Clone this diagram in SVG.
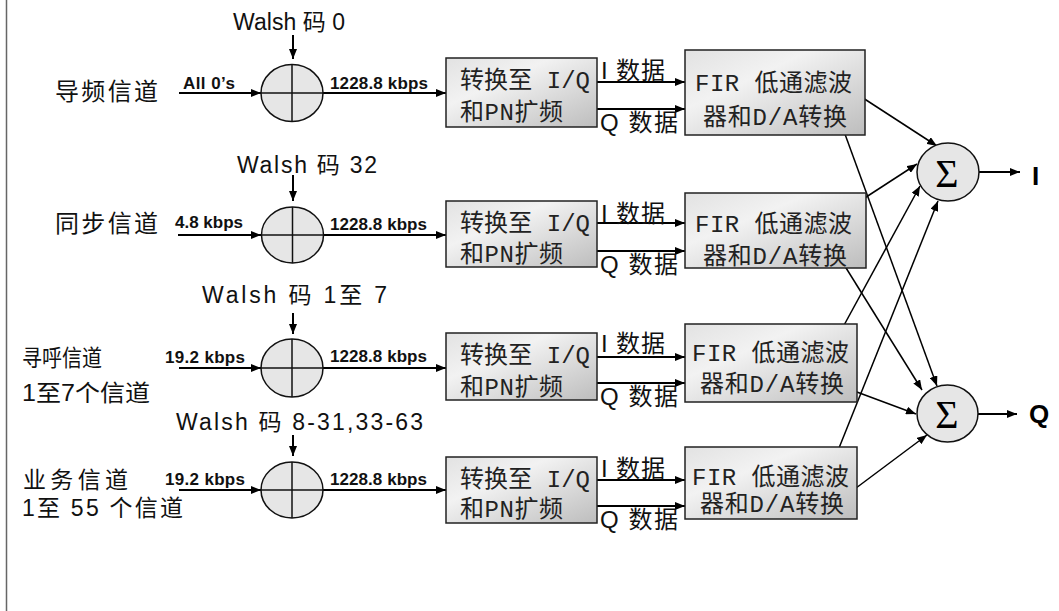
<svg xmlns="http://www.w3.org/2000/svg" width="1059" height="611" viewBox="0 0 1059 611">
<style>
.sans{font-family:"Liberation Sans","Noto Sans CJK SC",sans-serif;fill:#111}
.lbl{font-size:24px}
.lbl2{font-size:23px}
.walsh{font-size:23px}
.rate{font-size:17px;font-weight:bold}
.box{fill:url(#bg);stroke:#222;stroke-width:1.5}
.bt{font-family:"Liberation Mono","Noto Sans CJK SC",monospace;font-size:24px;fill:#222}
.mix{fill:#e6e6e6;stroke:#111;stroke-width:1.5}
.cross{stroke:#111;stroke-width:1.5}
.ar{stroke:#000;stroke-width:2;fill:none;marker-end:url(#ah)}
.xl{stroke:#000;stroke-width:1.5;fill:none;marker-end:url(#ah)}
.sig{font-family:"Liberation Serif","DejaVu Serif",serif;font-size:40px;fill:#000}
.out{font-family:"Liberation Sans",sans-serif;font-size:26px;font-weight:bold;fill:#000}
</style>
<defs>
<linearGradient id="bg" x1="0" y1="0" x2="1" y2="1">
<stop offset="0" stop-color="#e2e2e2"/>
<stop offset="0.35" stop-color="#f2f2f2"/>
<stop offset="1" stop-color="#bdbdbd"/>
</linearGradient>
<marker id="ah" markerUnits="userSpaceOnUse" markerWidth="11" markerHeight="8" refX="10" refY="4" orient="auto">
<path d="M0,0 L10,4 L0,8 z" fill="#000"/>
</marker>
</defs>
<rect x="0" y="0" width="1059" height="611" fill="#fff"/>
<line x1="6.5" y1="0" x2="6.5" y2="611" stroke="#666" stroke-width="1.5"/>

<g id="connectors">
<line class="ar" x1="293" y1="35" x2="293" y2="59"/>
<line class="ar" x1="293" y1="175" x2="293" y2="201"/>
<line class="ar" x1="293" y1="313" x2="293" y2="334"/>
<line class="ar" x1="293" y1="435" x2="293" y2="456"/>
<line class="ar" x1="179" y1="93" x2="261" y2="93"/>
<line class="ar" x1="178" y1="235" x2="261" y2="235"/>
<line class="ar" x1="179" y1="368" x2="261" y2="368"/>
<line class="ar" x1="179" y1="490" x2="261" y2="490"/>
<line class="ar" x1="323" y1="93" x2="446" y2="93"/>
<line class="ar" x1="324" y1="235" x2="446" y2="235"/>
<line class="ar" x1="323" y1="368" x2="446" y2="368"/>
<line class="ar" x1="323" y1="490" x2="446" y2="490"/>
<line class="ar" x1="597" y1="82" x2="685" y2="82"/>
<line class="ar" x1="597" y1="109" x2="685" y2="109"/>
<line class="ar" x1="597" y1="223" x2="685" y2="223"/>
<line class="ar" x1="597" y1="251" x2="685" y2="251"/>
<line class="ar" x1="597" y1="357" x2="685" y2="357"/>
<line class="ar" x1="597" y1="383" x2="685" y2="383"/>
<line class="ar" x1="597" y1="480" x2="685" y2="480"/>
<line class="ar" x1="597" y1="506" x2="685" y2="506"/>
<line class="xl" x1="843" y1="85" x2="937" y2="146"/>
<line class="xl" x1="838" y1="115" x2="937" y2="386"/>
<line class="xl" x1="840" y1="214" x2="917" y2="164"/>
<line class="xl" x1="838" y1="255" x2="922" y2="390"/>
<line class="xl" x1="837" y1="338" x2="920" y2="186"/>
<line class="xl" x1="838" y1="385" x2="916" y2="414"/>
<line class="xl" x1="837" y1="453" x2="938" y2="201"/>
<line class="xl" x1="840" y1="500" x2="927" y2="435"/>
<line class="ar" x1="979" y1="172" x2="1020" y2="172"/>
<line class="ar" x1="978" y1="414" x2="1017" y2="414"/>
</g>

<g id="ch-pilot">
<text class="sans lbl" x="55" y="100" textLength="103">导频信道</text>
<text class="sans rate" x="183" y="89" textLength="52">All 0’s</text>
</g>
<g id="ch-sync">
<text class="sans lbl" x="55" y="232" textLength="103">同步信道</text>
<text class="sans rate" x="175" y="228" textLength="68">4.8 kbps</text>
</g>
<g id="ch-paging">
<text class="sans lbl2" x="22" y="366" textLength="80" lengthAdjust="spacingAndGlyphs">寻呼信道</text>
<text class="sans lbl2" x="22" y="401" textLength="128" lengthAdjust="spacingAndGlyphs">1至7个信道</text>
<text class="sans rate" x="165" y="363" textLength="80">19.2 kbps</text>
</g>
<g id="ch-traffic">
<text class="sans lbl2" x="23" y="488" textLength="105">业务信道</text>
<text class="sans lbl2" x="22" y="516" textLength="161">1至 55 个信道</text>
<text class="sans rate" x="165" y="485" textLength="80">19.2 kbps</text>
</g>

<g id="mixer-1">
<text class="sans walsh" x="233" y="30" textLength="112">Walsh 码 0</text>
<ellipse class="mix" cx="292" cy="93" rx="31" ry="28.5"/>
<line class="cross" x1="292" y1="64.5" x2="292" y2="121.5"/>
<line class="cross" x1="261" y1="93" x2="323" y2="93"/>
<text class="sans rate" x="330" y="89" textLength="98">1228.8 kbps</text>
</g>
<g id="mixer-2">
<text class="sans walsh" x="237" y="173" textLength="140">Walsh 码 32</text>
<ellipse class="mix" cx="292.5" cy="235" rx="31" ry="28"/>
<line class="cross" x1="292.5" y1="207" x2="292.5" y2="263"/>
<line class="cross" x1="261.5" y1="235" x2="323.5" y2="235"/>
<text class="sans rate" x="330" y="230" textLength="97">1228.8 kbps</text>
</g>
<g id="mixer-3">
<text class="sans walsh" x="202" y="303" textLength="185">Walsh 码 1至 7</text>
<ellipse class="mix" cx="292" cy="368" rx="31" ry="29"/>
<line class="cross" x1="292" y1="339" x2="292" y2="397"/>
<line class="cross" x1="261" y1="368" x2="323" y2="368"/>
<text class="sans rate" x="330" y="362" textLength="97">1228.8 kbps</text>
</g>
<g id="mixer-4">
<text class="sans walsh" x="176" y="430" textLength="247">Walsh 码  8-31,33-63</text>
<ellipse class="mix" cx="292" cy="490" rx="31" ry="28"/>
<line class="cross" x1="292" y1="462" x2="292" y2="518"/>
<line class="cross" x1="261" y1="490" x2="323" y2="490"/>
<text class="sans rate" x="330" y="485" textLength="97">1228.8 kbps</text>
</g>

<g id="iq-1">
<rect class="box" x="446" y="58" width="151" height="69"/>
<text class="bt" x="460" y="88" textLength="130">转换至 I/Q</text>
<text class="bt" x="460" y="120" textLength="103">和PN扩频</text>
</g>
<g id="iq-2">
<rect class="box" x="446" y="201" width="151" height="66"/>
<text class="bt" x="460" y="231" textLength="130">转换至 I/Q</text>
<text class="bt" x="460" y="262" textLength="103">和PN扩频</text>
</g>
<g id="iq-3">
<rect class="box" x="446" y="333" width="151" height="67"/>
<text class="bt" x="460" y="363" textLength="130">转换至 I/Q</text>
<text class="bt" x="460" y="395" textLength="103">和PN扩频</text>
</g>
<g id="iq-4">
<rect class="box" x="446" y="457" width="151" height="66"/>
<text class="bt" x="460" y="487" textLength="130">转换至 I/Q</text>
<text class="bt" x="460" y="517" textLength="103">和PN扩频</text>
</g>

<g id="iq-labels">
<text class="sans lbl" x="601" y="79" textLength="64">I 数据</text>
<text class="sans lbl" x="600" y="131" textLength="78">Q 数据</text>
<text class="sans lbl" x="601" y="222" textLength="64">I 数据</text>
<text class="sans lbl" x="600" y="273" textLength="78">Q 数据</text>
<text class="sans lbl" x="601" y="352" textLength="64">I 数据</text>
<text class="sans lbl" x="600" y="405" textLength="78">Q 数据</text>
<text class="sans lbl" x="601" y="477" textLength="64">I 数据</text>
<text class="sans lbl" x="600" y="528" textLength="78">Q 数据</text>
</g>

<g id="fir-1">
<rect class="box" x="685" y="50" width="180" height="85"/>
<text class="bt" x="695" y="91" textLength="157">FIR 低通滤波</text>
<text class="bt" x="703" y="125" textLength="144">器和D/A转换</text>
</g>
<g id="fir-2">
<rect class="box" x="685" y="193" width="181" height="75"/>
<text class="bt" x="695" y="232" textLength="157">FIR 低通滤波</text>
<text class="bt" x="703" y="264" textLength="144">器和D/A转换</text>
</g>
<g id="fir-3">
<rect class="box" x="685" y="324" width="172" height="78"/>
<text class="bt" x="692" y="361" textLength="157">FIR 低通滤波</text>
<text class="bt" x="700" y="392" textLength="144">器和D/A转换</text>
</g>
<g id="fir-4">
<rect class="box" x="685" y="447" width="172" height="72"/>
<text class="bt" x="692" y="485" textLength="157">FIR 低通滤波</text>
<text class="bt" x="700" y="512" textLength="144">器和D/A转换</text>
</g>

<g id="sum-I">
<ellipse class="mix" cx="948" cy="172" rx="31" ry="29"/>
<text class="sig" x="947" y="187" text-anchor="middle">Σ</text>
<text class="out" x="1032" y="185">I</text>
</g>
<g id="sum-Q">
<ellipse class="mix" cx="947.5" cy="413.5" rx="30.5" ry="28.5"/>
<text class="sig" x="947" y="428" text-anchor="middle">Σ</text>
<text class="out" x="1029" y="423">Q</text>
</g>
</svg>
